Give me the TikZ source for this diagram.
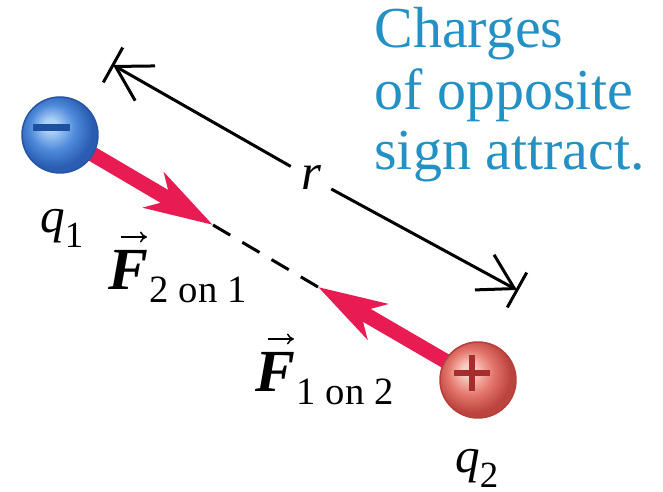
\documentclass[tikz,border=0pt]{standalone}
\usepackage{fontspec}
\setmainfont{Liberation Serif}
\usetikzlibrary{arrows.meta,calc}
\definecolor{capblue}{RGB}{35,145,195}
\definecolor{forcered}{RGB}{232,28,82}
\definecolor{blueHi}{RGB}{175,210,248}
\definecolor{blueMid}{RGB}{78,138,218}
\definecolor{blueDark}{RGB}{42,92,178}
\definecolor{blueEdge}{RGB}{40,85,165}
\definecolor{minusblue}{RGB}{30,80,160}
\definecolor{redHi}{RGB}{250,205,195}
\definecolor{redMid}{RGB}{228,118,108}
\definecolor{redDark}{RGB}{188,68,62}
\definecolor{redEdge}{RGB}{180,62,58}
\definecolor{plusred}{RGB}{165,45,45}
\pgfdeclareradialshading{blueball}{\pgfpoint{-7bp}{7bp}}{color(0bp)=(blueHi); color(4bp)=(blueHi); color(15bp)=(blueMid); color(25bp)=(blueDark); color(50bp)=(blueDark)}
\pgfdeclareradialshading{redball}{\pgfpoint{-7bp}{7bp}}{color(0bp)=(redHi); color(4bp)=(redHi); color(15bp)=(redMid); color(25bp)=(redDark); color(50bp)=(redDark)}
\newcommand{\qlab}[1]{{\fontsize{28pt}{28pt}\selectfont\itshape q}\raisebox{-8pt}{\fontsize{21pt}{21pt}\selectfont #1}}
\newcommand{\Flab}[1]{{\fontsize{34pt}{34pt}\selectfont\bfseries\itshape F}\raisebox{-7pt}{\fontsize{22pt}{22pt}\selectfont\kern1pt #1}}
\begin{document}
\begin{tikzpicture}[x=0.02cm,y=-0.02cm,
  forcearrow/.style={draw=forcered,line width=0.3cm,-{Stealth[length=1.36cm,width=0.8cm,inset=0.38cm]}},
  dimline/.style={draw=black,line width=0.06cm},
  vecarrow/.style={draw=black,line width=0.03cm,-{To[length=0.14cm,width=0.22cm]}},
  chargeball/.style={circle,minimum size=1.52cm,inner sep=0pt,line width=0.03cm},
  caption/.style={anchor=base west,inner sep=0pt,text=capblue,font=\fontsize{33pt}{33pt}\selectfont},
  lab/.style={anchor=base west,inner sep=0pt}]
\useasboundingbox (0,0) rectangle (663,492);
% positions
\coordinate (c1) at (60,135);
\coordinate (c2) at (478,380);
\coordinate (tip1) at (213,225);
\coordinate (tip2) at (318,287);
\coordinate (rA) at (113,65);
\coordinate (rB) at (517,290);
% dashed line of action
\draw[black,line width=0.06cm,dash pattern=on 0.4cm off 0.28cm] (tip1) -- (tip2);
% forces
\draw[forcearrow] (c1) -- (tip1);
\draw[forcearrow] (c2) -- (tip2);
% charges
\node[chargeball,shading=blueball,draw=blueEdge] (q1) at (c1) {};
\node[chargeball,shading=redball,draw=redEdge] (q2) at (c2) {};
\draw[minusblue,line width=0.14cm] ($(q1.center)+(-27,-7)$) -- ++(37,0);
\draw[plusred,line width=0.12cm] ($(q2.center)+(-24,-7)$) -- ++(36,0);
\draw[plusred,line width=0.12cm] ($(q2.center)+(-6,-25)$) -- ++(0,36);
% distance r
\node[inner sep=0.2cm,font=\fontsize{29pt}{29pt}\selectfont\itshape] (rlab) at (311,178) {r};
\draw[dimline,{Straight Barb[length=0.68cm,width=0.8cm]}-] (rA) -- (rlab);
\draw[dimline,-{Straight Barb[length=0.68cm,width=0.8cm]}] (rlab) -- (rB);
\draw[dimline] ($(rA)!0.4cm!90:(rB)$) -- ($(rA)!0.4cm!-90:(rB)$);
\draw[dimline] ($(rB)!0.4cm!90:(rA)$) -- ($(rB)!0.4cm!-90:(rA)$);
% labels
\node[lab] (lq1) at (40,233) {\qlab{1}};
\node[lab] (lq2) at (455,473) {\qlab{2}};
\node[lab] (lF21) at (108,290) {\Flab{2 on 1}};
\node[lab] (lF12) at (255,392) {\Flab{1 on 2}};
\draw[vecarrow] ($(lF21.base west)+(13,-53)$) -- ++(26,0);
\draw[vecarrow] ($(lF12.base west)+(13,-53)$) -- ++(26,0);
% caption
\node[caption] (cap1) at (374,48) {Charges};
\node[caption] (cap2) at (374,110) {of opposite};
\node[caption] (cap3) at (374,170) {sign attract.};
\end{tikzpicture}
\end{document}
